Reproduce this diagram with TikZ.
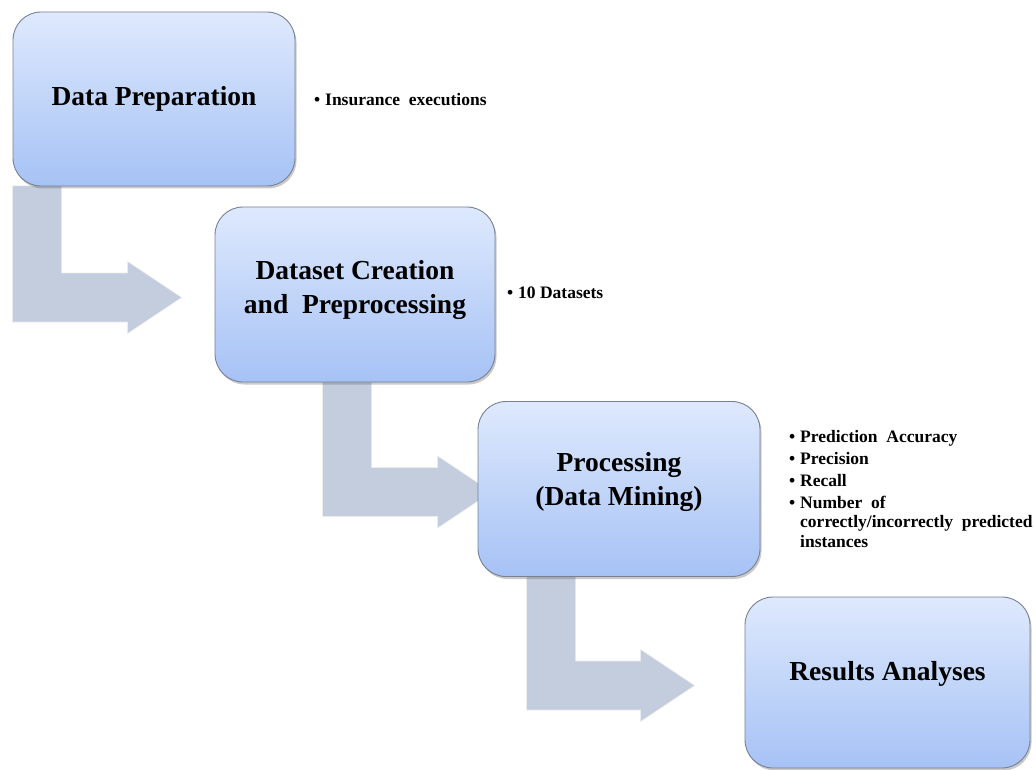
\documentclass[tikz,border=0pt]{standalone}
\usepackage{fontspec}
\setmainfont{Liberation Serif}
\usetikzlibrary{calc,shadows,backgrounds}

\definecolor{boxtop}{RGB}{222,233,253}
\definecolor{boxbottom}{RGB}{166,194,245}
\definecolor{boxedge}{RGB}{120,128,145}
\definecolor{arrowfill}{RGB}{195,205,222}

\tikzset{
  stagebox/.style={rounded corners=28pt, draw=boxedge, line width=0.9pt,
    top color=boxtop, bottom color=boxbottom, inner sep=0pt,
    drop shadow={shadow xshift=1.5pt, shadow yshift=-2.5pt, opacity=0.35, fill=black!60}},
  stagetext/.style={align=center, inner sep=0pt,
    font=\fontsize{27.5}{34}\selectfont\bfseries},
  % stage title, raised by #1 above the middle of the box
  title/.style 2 args={label={[stagetext, yshift=#1]center:#2}},
  notes/.style={anchor=base west, align=left, inner sep=0pt,
    font=\fontsize{17.5}{19.5}\selectfont\bfseries},
  flowarrow/.style={fill=arrowfill, draw=white!92!black, line width=0.6pt}
}

% bent block arrow: down from the bottom of #1, then right towards #2
% #3 = shaft offset from the left side of #1, #4 = gap left before #2
\newcommand{\bentarrow}[4]{%
  \path[flowarrow] let \p1=(#1.south west), \p2=(#2.west),
      \n1={\x1+#3}, \n2={\y2-3pt}, \n3={\x2-#4} in
    (\n1, \y1+0.5pt) -- (\n1+49pt, \y1+0.5pt) -- (\n1+49pt, \n2+24.5pt)
    -- (\n3-54pt, \n2+24.5pt) -- (\n3-54pt, \n2+36pt) -- (\n3, \n2)
    -- (\n3-54pt, \n2-36pt) -- (\n3-54pt, \n2-24.5pt) -- (\n1, \n2-24.5pt) -- cycle;
}

\newcommand{\bul}{\makebox[11pt][l]{\textbullet}}

\begin{document}
\begin{tikzpicture}[x=1pt, y=-1pt]
\useasboundingbox (0,0) rectangle (1036,770);

% stages
\node[stagebox, minimum width=282pt, minimum height=174pt,
  title={0pt}{Data Preparation}] (prep) at (154,99) {};
\node[stagebox, minimum width=280pt, minimum height=175pt,
  title={5pt}{Dataset Creation\\and\ \ Preprocessing}] (create) at (355,294.5) {};
\node[stagebox, minimum width=282pt, minimum height=175pt,
  title={7pt}{Processing\\(Data Mining)}] (mining) at (619,489) {};
\node[stagebox, minimum width=285pt, minimum height=171pt,
  title={9pt}{Results Analyses}] (results) at (887.5,682.5) {};

% arrows between stages, drawn beneath the boxes
\begin{scope}[on background layer]
  \bentarrow{prep}{create}{0pt}{33pt}
  \bentarrow{create}{mining}{108pt}{-14pt}
  \bentarrow{mining}{results}{49pt}{50pt}
\end{scope}

% notes beside the stages
\node[notes] (n1) at (314,106) {\bul Insurance\ \ executions};
\node[notes] (n2) at (507,298) {\bul 10 Datasets};
\node[notes, anchor=north west] (n3) at (789,430) {%
  \bul Prediction\ \ Accuracy\\[2.5pt]
  \bul Precision\\[2.5pt]
  \bul Recall\\[2.5pt]
  \bul Number\ \ of\\
  \hspace*{11pt}correctly/incorrectly\ \ predicted\\
  \hspace*{11pt}instances};
\end{tikzpicture}
\end{document}
